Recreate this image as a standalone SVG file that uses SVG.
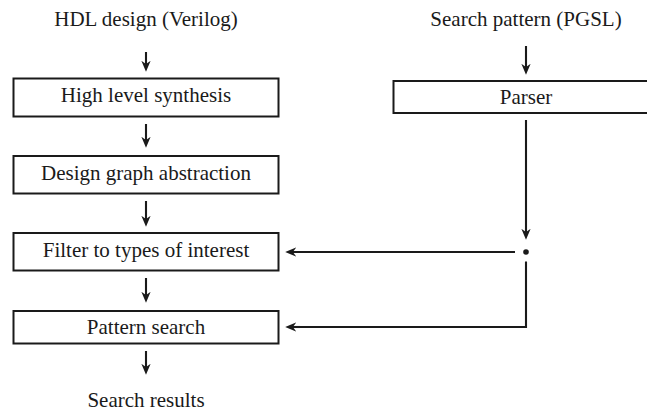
<svg xmlns="http://www.w3.org/2000/svg" width="647" height="414" viewBox="0 0 647 414">
  <style>
    .box { fill: #ffffff; stroke: #1a1a1a; stroke-width: 2; }
    .lbl { font-family: "Liberation Serif", "DejaVu Serif", serif; font-size: 21px; fill: #1a1a1a; text-anchor: middle; }
    .wire { fill: none; stroke: #1a1a1a; stroke-width: 2.1; }
    .arrow { fill: none; stroke: #1a1a1a; stroke-width: 2.1; marker-end: url(#head); }
  </style>
  <defs>
    <marker id="head" viewBox="0 0 10 10" refX="7" refY="5" markerWidth="11" markerHeight="11" markerUnits="userSpaceOnUse" orient="auto">
      <path d="M0,0.8 L10,5 L0,9.2 L3,5 Z" fill="#1a1a1a"/>
    </marker>
  </defs>
  <rect width="647" height="414" fill="#ffffff"/>

  <!-- inputs and output labels -->
  <g id="hdl-input"><text class="lbl" x="146" y="26">HDL design (Verilog)</text></g>
  <g id="pgsl-input"><text class="lbl" x="526" y="26">Search pattern (PGSL)</text></g>
  <g id="results"><text class="lbl" x="146" y="407">Search results</text></g>

  <!-- processing stages -->
  <g id="hls">
    <rect class="box" x="13.5" y="78.5" width="265" height="38"/>
    <text class="lbl" x="146" y="101.5">High level synthesis</text>
  </g>
  <g id="parser">
    <rect class="box" x="393.5" y="81" width="265" height="32"/>
    <text class="lbl" x="526" y="103.5">Parser</text>
  </g>
  <g id="abstraction">
    <rect class="box" x="13.5" y="156" width="265" height="37.5"/>
    <text class="lbl" x="146" y="179.5">Design graph abstraction</text>
  </g>
  <g id="filter">
    <rect class="box" x="13.5" y="233" width="265" height="37.5"/>
    <text class="lbl" x="146" y="257">Filter to types of interest</text>
  </g>
  <g id="search">
    <rect class="box" x="13.5" y="311" width="265" height="32.5"/>
    <text class="lbl" x="146" y="334">Pattern search</text>
  </g>

  <!-- connectors -->
  <g id="connectors">
    <line class="arrow" x1="146" y1="52" x2="146" y2="68.5"/>
    <line class="arrow" x1="146" y1="124" x2="146" y2="144.5"/>
    <line class="arrow" x1="146" y1="201" x2="146" y2="223.5"/>
    <line class="arrow" x1="146" y1="278" x2="146" y2="299.5"/>
    <line class="arrow" x1="146" y1="351" x2="146" y2="371.5"/>
    <line class="arrow" x1="526" y1="46" x2="526" y2="71.5"/>
    <line class="arrow" x1="526" y1="120" x2="526" y2="236.5"/>
    <circle cx="526" cy="252" r="2.8" fill="#1a1a1a"/>
    <line class="arrow" x1="515" y1="252" x2="288.5" y2="252"/>
    <path class="wire" d="M526,261.5 V327 H300"/>
    <line class="arrow" x1="300" y1="327" x2="288.5" y2="327"/>
  </g>
</svg>
